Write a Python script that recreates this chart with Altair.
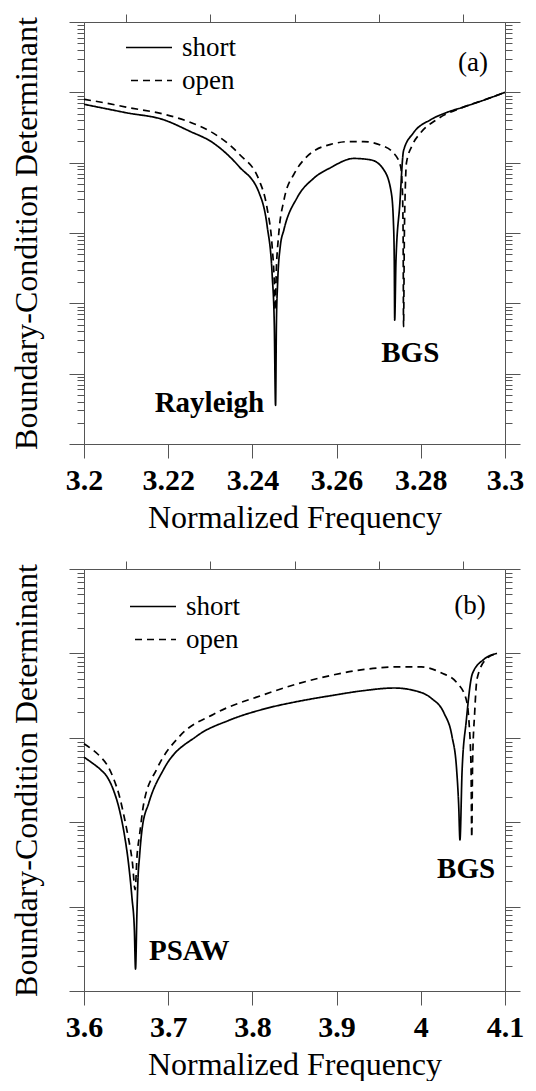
import altair as alt
import pandas as pd

SERIF = "Liberation Serif"
AX = "#555555"

# ---------------- panel (a) : log10 of the determinant ----------------
a_freq_short = [3.2, 3.205, 3.21, 3.2189, 3.225, 3.2307, 3.2369, 3.2416, 3.2435, 3.2447,
                3.2452, 3.2455, 3.2457, 3.2460, 3.2466, 3.2475, 3.2506, 3.2546, 3.2586, 3.2641,
                3.2681, 3.2712, 3.2730, 3.2735, 3.2737, 3.2738, 3.2741, 3.2750, 3.2759, 3.2782,
                3.2823, 3.2860, 3.2901, 3.2950, 3.3]
a_log_short = [-1.17, -1.23, -1.29, -1.39, -1.55, -1.72, -2.06, -2.43, -2.90, -3.60,
               -4.30, -5.45, -4.30, -3.70, -3.20, -2.95, -2.50, -2.22, -2.07, -1.94,
               -1.96, -2.10, -2.43, -2.85, -3.40, -4.24, -3.40, -2.60, -1.83, -1.58,
               -1.39, -1.29, -1.21, -1.11, -1.00]
a_freq_open = [3.2, 3.205, 3.21, 3.2189, 3.225, 3.2307, 3.2369, 3.2416, 3.2435, 3.2447,
               3.2452, 3.2454, 3.2457, 3.2462, 3.2475, 3.2500, 3.2522, 3.2550, 3.2586, 3.2630,
               3.2664, 3.2704, 3.2735, 3.2752, 3.2756, 3.2758, 3.2759, 3.2761, 3.2763, 3.2766,
               3.2780, 3.2799, 3.2837, 3.2901, 3.2950, 3.3]
a_log_open = [-1.10, -1.15, -1.21, -1.31, -1.42, -1.58, -1.88, -2.25, -2.65, -3.20,
              -3.70, -4.10, -3.50, -3.05, -2.53, -2.15, -1.96, -1.82, -1.74, -1.70,
              -1.70, -1.75, -1.86, -2.05, -2.35, -3.00, -4.33, -3.00, -2.40, -2.00,
              -1.75, -1.58, -1.39, -1.21, -1.11, -1.00]

# ---------------- panel (b) ----------------
b_freq_short = [3.6, 3.61, 3.62, 3.6273, 3.635, 3.642, 3.648, 3.653, 3.657, 3.6598,
                3.6612, 3.6628, 3.6640, 3.6660, 3.669, 3.677, 3.6948, 3.7339, 3.773, 3.8133,
                3.8536, 3.8938, 3.9329, 3.9685, 3.9922, 4.0123, 4.0277, 4.037, 4.0425, 4.045,
                4.0465, 4.049, 4.054, 4.0613, 4.075, 4.0905]
b_log_short = [-2.23, -2.30, -2.38, -2.46, -2.62, -2.85, -3.15, -3.50, -3.90, -4.27,
               -4.74, -4.10, -3.70, -3.40, -3.08, -2.77, -2.37, -1.98, -1.79, -1.66,
               -1.57, -1.50, -1.44, -1.41, -1.44, -1.53, -1.71, -1.98, -2.37, -2.80,
               -3.21, -2.40, -1.80, -1.24, -1.07, -1.00]
b_freq_open = [3.6, 3.61, 3.62, 3.6273, 3.635, 3.642, 3.648, 3.652, 3.6575, 3.6607,
               3.6630, 3.6660, 3.6711, 3.6865, 3.7137, 3.754, 3.8133, 3.8536, 3.8938, 3.9329,
               3.972, 4.0005, 4.0242, 4.0431, 4.0538, 4.0573, 4.0597, 4.0605, 4.0615, 4.0640,
               4.0668, 4.0775, 4.0905]
b_log_open = [-2.07, -2.14, -2.23, -2.32, -2.48, -2.69, -2.95, -3.15, -3.48, -3.80,
              -3.40, -3.15, -2.77, -2.37, -1.98, -1.72, -1.49, -1.36, -1.26, -1.19,
              -1.16, -1.16, -1.23, -1.35, -1.54, -1.82, -2.37, -3.18, -2.30, -1.70,
              -1.30, -1.07, -1.00]

# annotations (frequency, log10 value, text)
a_bold_f = [3.2298, 3.2775]
a_bold_l = [-5.545, -4.834]
a_bold_t = ["Rayleigh", "BGS"]
a_tag_f, a_tag_l, a_tag_t = [3.2924], [-0.70], ["(a)"]

b_bold_f = [3.725, 4.0538]
b_bold_l = [-4.633, -3.66]
b_bold_t = ["PSAW", "BGS"]
b_tag_f, b_tag_l, b_tag_t = [4.0585], [-0.53], ["(b)"]

a_x_major = [3.2, 3.22, 3.24, 3.26, 3.28, 3.3]
a_x_minor = [3.21, 3.23, 3.25, 3.27, 3.29]
b_x_major = [3.6, 3.7, 3.8, 3.9, 4.0, 4.1]
b_x_minor = [3.65, 3.75, 3.85, 3.95, 4.05]

series = ["short", "open"]


def curves(fs, ls, fo, lo):
    rows = []
    for i, (f, l) in enumerate(zip(fs, ls)):
        rows.append({"f": f, "v": 10 ** l, "mode": "short", "i": i})
    for i, (f, l) in enumerate(zip(fo, lo)):
        rows.append({"f": f, "v": 10 ** l, "mode": "open", "i": i})
    return pd.DataFrame(rows)


def notes(fs, ls, ts):
    return pd.DataFrame({"f": fs, "v": [10 ** l for l in ls], "t": ts})


def log_ticks(lo, hi):
    major = [10.0 ** e for e in range(lo, hi + 1)]
    minor = [k * 10.0 ** e for e in range(lo, hi) for k in range(2, 10)]
    return major, minor


def panel(df, bold, tag, xdom, xmaj, xmin, ylo, legx, legy):
    ymaj, ymin = log_ticks(ylo, 0)
    xs = alt.Scale(domain=xdom, nice=False, zero=False)
    ys = alt.Scale(type="log", domain=[10.0 ** ylo, 1.0], nice=False)
    common = dict(grid=False, domainColor=AX, tickColor=AX, tickWidth=1, domainWidth=1)

    x_major = alt.Axis(values=xmaj, tickSize=14, format="~g", labelFont=SERIF,
                       labelFontSize=30, labelFontWeight="bold", labelColor="black",
                       labelPadding=7, labelFlush=False, labelOverlap=False,
                       title="Normalized Frequency", titleFont=SERIF, titleFontSize=32,
                       titleFontWeight="normal", titleColor="black", titlePadding=7, **common)
    x_minor = alt.Axis(values=xmin, tickSize=8, labels=False, domain=False, title=None,
                       grid=False, tickColor=AX, tickWidth=1)
    y_left_major = alt.Axis(orient="left", values=ymaj, tickSize=15, labels=False,
                            title="Boundary-Condition Determinant", titleFont=SERIF,
                            titleFontSize=32, titleFontWeight="normal", titleColor="black",
                            titlePadding=25, **common)
    y_left_minor = alt.Axis(orient="left", values=ymin, tickSize=7, labels=False,
                            domain=False, title=None, grid=False, tickColor=AX, tickWidth=1)
    y_right_major = alt.Axis(orient="right", values=ymaj, tickSize=15, labels=False,
                             title=None, **common)
    y_right_minor = alt.Axis(orient="right", values=ymin, tickSize=7, labels=False,
                             domain=False, title=None, grid=False, tickColor=AX, tickWidth=1)

    legend = alt.Legend(orient="none", legendX=legx, legendY=legy, title=None,
                        symbolType="M-5,0H5", symbolSize=169, symbolStrokeWidth=1.6,
                        clipHeight=33, rowPadding=0, padding=0, labelFont=SERIF,
                        labelFontSize=27, labelColor="black", labelOffset=29)

    lines = alt.Chart(df).mark_line(color="black", strokeWidth=1.7,
                                    interpolate="monotone").encode(
        x=alt.X("f:Q", scale=xs, axis=x_major),
        y=alt.Y("v:Q", scale=ys, axis=y_left_major),
        strokeDash=alt.StrokeDash("mode:N", scale=alt.Scale(domain=series, range=[[1, 0], [7, 5]]),
                                  legend=legend),
        order="i:Q",
    )
    bold_txt = alt.Chart(bold).mark_text(font=SERIF, fontSize=29, fontWeight="bold",
                                         color="black", align="center",
                                         baseline="alphabetic").encode(
        x=alt.X("f:Q", scale=xs, axis=x_minor),
        y=alt.Y("v:Q", scale=ys, axis=y_left_minor),
        text="t:N",
    )
    tag_txt = alt.Chart(tag).mark_text(font=SERIF, fontSize=27, color="black",
                                       align="center", baseline="alphabetic").encode(
        x=alt.X("f:Q", scale=xs, axis=None),
        y=alt.Y("v:Q", scale=ys, axis=y_right_major),
        text="t:N",
    )
    ghost = alt.Chart(df).mark_line(opacity=0).encode(
        x=alt.X("f:Q", scale=xs, axis=None),
        y=alt.Y("v:Q", scale=ys, axis=y_right_minor),
        detail="mode:N",
        order="i:Q",
    )
    return alt.layer(lines, bold_txt, tag_txt, ghost).resolve_axis(
        x="independent", y="independent"
    ).properties(width=421, height=422)


top = panel(curves(a_freq_short, a_log_short, a_freq_open, a_log_open),
            notes(a_bold_f, a_bold_l, a_bold_t), notes(a_tag_f, a_tag_l, a_tag_t),
            [3.2, 3.3], a_x_major, a_x_minor, -6, 42, 9)
bottom = panel(curves(b_freq_short, b_log_short, b_freq_open, b_log_open),
               notes(b_bold_f, b_bold_l, b_bold_t), notes(b_tag_f, b_tag_l, b_tag_t),
               [3.6, 4.1], b_x_major, b_x_minor, -5, 46, 21)

chart = alt.vconcat(top, bottom, spacing=26).resolve_scale(
    strokeDash="independent"
).resolve_legend(strokeDash="independent").properties(
    padding={"left": 2, "top": 5, "right": 0, "bottom": 0}, background="white"
).configure_view(stroke=AX, strokeWidth=1)

chart.save("out.html", embed_options={"renderer": "svg", "actions": False})
